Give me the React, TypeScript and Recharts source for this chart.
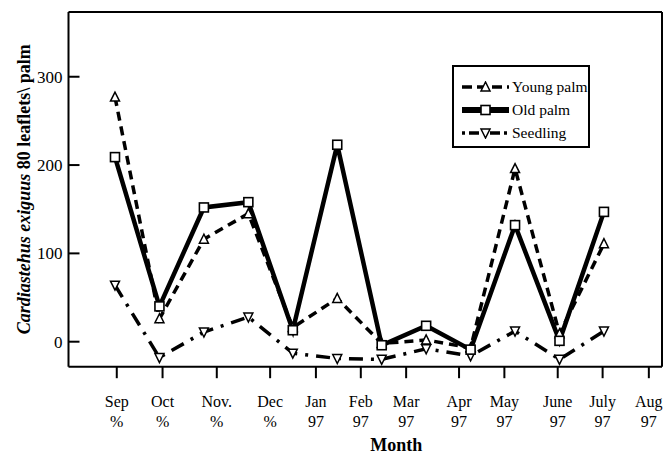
import { Legend, Line, LineChart, ReferenceLine, XAxis, YAxis } from "recharts";

const monthNames = ["Sep", "Oct", "Nov.", "Dec", "Jan", "Feb", "Mar", "Apr", "May", "June", "July", "Aug"];
const yearNames = ["%", "%", "%", "%", "97", "97", "97", "97", "97", "97", "97", "97"];
// the printed month ticks are not evenly spaced, unlike the sampling points
const monthTicks = [0.04, 1.07, 2.29, 3.49, 4.52, 5.53, 6.55, 7.74, 8.76, 9.96, 10.97, 12.01];
const youngPalm = [277, 26, 116, 145, 16, 49, -2, 2, -7, 196, 9, 111];
const oldPalm = [209, 40, 152, 158, 13, 223, -4, 18, -9, 132, 1, 147];
const seedling = [64, -18, 11, 28, -13, -19, -20, -8, -16, 12, -20, 12];
const yTicks = [0, 100, 200, 300];
const xDomain = [-1.046, 12.306];
const yDomain = [-28.3, 373.3];

const rows = oldPalm.map((_, i) => ({
	idx: i,
	young: youngPalm[i],
	old: oldPalm[i],
	seedling: seedling[i],
}));

const FONT = "'Liberation Serif', 'Times New Roman', serif";

type DotProps = { cx?: number; cy?: number; index?: number };

function squareDot({ cx, cy, index }: DotProps) {
	if (typeof cx !== "number" || typeof cy !== "number") return <g key={`s${index}`} />;
	return <rect key={`s${index}`} x={cx - 4.5} y={cy - 4.5} width={9} height={9} fill="#fff" stroke="#000" strokeWidth={1.6} />;
}

function triUpDot({ cx, cy, index }: DotProps) {
	if (typeof cx !== "number" || typeof cy !== "number") return <g key={`u${index}`} />;
	return (
		<polygon
			key={`u${index}`}
			points={`${cx},${cy - 5} ${cx - 4.5},${cy + 4} ${cx + 4.5},${cy + 4}`}
			fill="#fff"
			stroke="#000"
			strokeWidth={1.5}
		/>
	);
}

function triDownDot({ cx, cy, index }: DotProps) {
	if (typeof cx !== "number" || typeof cy !== "number") return <g key={`d${index}`} />;
	return (
		<polygon
			key={`d${index}`}
			points={`${cx},${cy + 5} ${cx - 4.5},${cy - 4} ${cx + 4.5},${cy - 4}`}
			fill="#fff"
			stroke="#000"
			strokeWidth={1.5}
		/>
	);
}

type TickProps = { x?: number; y?: number; payload?: { value: number } };

function MonthTick({ x, y, payload }: TickProps) {
	if (typeof x !== "number" || typeof y !== "number" || !payload) return null;
	const i = monthTicks.findIndex((t) => Math.abs(t - payload.value) < 1e-6);
	if (i < 0) return null;
	return (
		<text x={x} y={y} textAnchor="middle" fontFamily={FONT} fontSize={16} fill="#000">
			<tspan x={x} dy={25}>
				{monthNames[i]}
			</tspan>
			<tspan x={x} dy={20}>
				{yearNames[i]}
			</tspan>
		</text>
	);
}

type LabelProps = { viewBox?: { x: number; y: number; width: number; height: number } };

function YTitle({ viewBox }: LabelProps) {
	if (!viewBox) return null;
	const cx = viewBox.x + 24;
	const cy = viewBox.y + viewBox.height / 2;
	return (
		<text
			x={cx}
			y={cy}
			transform={`rotate(-90, ${cx}, ${cy})`}
			textAnchor="middle"
			dominantBaseline="central"
			fontFamily={FONT}
			fontSize={18}
			fontWeight="bold"
			fill="#000"
		>
			<tspan fontStyle="italic">Cardiastehus exiguus</tspan>
			<tspan> 80 leaflets\ palm</tspan>
		</text>
	);
}

function XTitle({ viewBox }: LabelProps) {
	if (!viewBox) return null;
	return (
		<text
			x={viewBox.x + viewBox.width / 2 + 31}
			y={451}
			textAnchor="middle"
			fontFamily={FONT}
			fontSize={18}
			fontWeight="bold"
			fill="#000"
		>
			Month
		</text>
	);
}

function LegendSample({ kind }: { kind: "young" | "old" | "seedling" }) {
	return (
		<svg width={47} height={12} style={{ display: "block", marginRight: 3, flex: "none" }}>
			{kind === "young" && (
				<g>
					<line x1={0} y1={6} x2={47} y2={6} stroke="#000" strokeWidth={3.5} strokeDasharray="10 5" />
					{triUpDot({ cx: 23.5, cy: 6, index: 0 })}
				</g>
			)}
			{kind === "old" && (
				<g>
					<line x1={0} y1={6} x2={47} y2={6} stroke="#000" strokeWidth={6} />
					{squareDot({ cx: 23.5, cy: 6, index: 0 })}
				</g>
			)}
			{kind === "seedling" && (
				<g>
					<line x1={0} y1={6} x2={47} y2={6} stroke="#000" strokeWidth={3.5} strokeDasharray="3 4 10 4" />
					{triDownDot({ cx: 23.5, cy: 6, index: 0 })}
				</g>
			)}
		</svg>
	);
}

function LegendBox() {
	const items: { kind: "young" | "old" | "seedling"; label: string }[] = [
		{ kind: "young", label: "Young palm" },
		{ kind: "old", label: "Old palm" },
		{ kind: "seedling", label: "Seedling" },
	];
	return (
		<div
			style={{
				boxSizing: "border-box",
				width: 138,
				height: 83,
				border: "2px solid #000",
				background: "#fff",
				padding: "8px 0 0 8px",
				fontFamily: FONT,
				fontSize: 15.5,
				color: "#000",
				whiteSpace: "nowrap",
			}}
		>
			{items.map((it) => (
				<div key={it.kind} style={{ display: "flex", alignItems: "center", height: 23.3 }}>
					<LegendSample kind={it.kind} />
					<span>{it.label}</span>
				</div>
			))}
		</div>
	);
}

export default function App() {
	return (
		<div style={{ position: "absolute", left: 0, top: 0, background: "#fff" }}>
			<LineChart
				width={669}
				height={454}
				data={rows}
				margin={{ top: 12, right: 7, left: 0, bottom: 0 }}
				style={{ fontFamily: FONT }}
			>
				<XAxis
					dataKey="idx"
					type="number"
					domain={xDomain}
					ticks={monthTicks}
					interval={0}
					tickSize={11.5}
					tickMargin={4}
					height={87.3}
					axisLine={{ stroke: "#000", strokeWidth: 2 }}
					tickLine={{ stroke: "#000", strokeWidth: 2 }}
					tick={<MonthTick />}
					label={<XTitle />}
				/>
				<YAxis
					type="number"
					domain={yDomain}
					ticks={yTicks}
					interval={0}
					tickSize={-11}
					tickMargin={17}
					width={68.5}
					axisLine={{ stroke: "#000", strokeWidth: 2 }}
					tickLine={{ stroke: "#000", strokeWidth: 2 }}
					tick={{ fill: "#000", fontSize: 17, fontFamily: FONT }}
					label={<YTitle />}
				/>
				{/* frame: top and right edges of the plot box */}
				<ReferenceLine y={yDomain[1]} stroke="#000" strokeWidth={2} />
				<ReferenceLine x={xDomain[1]} stroke="#000" strokeWidth={2} />
				<Legend
					layout="horizontal"
					verticalAlign="middle"
					align="center"
					content={<LegendBox />}
					wrapperStyle={{ left: 452, top: 65, width: 138, height: 83 }}
				/>
				<Line
					dataKey="seedling"
					name="Seedling"
					stroke="#000"
					strokeWidth={3.5}
					strokeDasharray="14 8 3 8"
					dot={triDownDot}
					isAnimationActive={false}
				/>
				<Line
					dataKey="young"
					name="Young palm"
					stroke="#000"
					strokeWidth={3.5}
					strokeDasharray="9 6"
					dot={triUpDot}
					isAnimationActive={false}
				/>
				<Line
					dataKey="old"
					name="Old palm"
					stroke="#000"
					strokeWidth={4.5}
					dot={squareDot}
					isAnimationActive={false}
				/>
			</LineChart>
		</div>
	);
}
